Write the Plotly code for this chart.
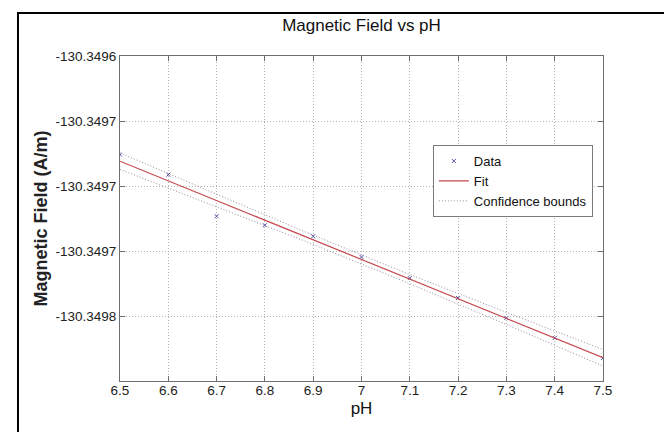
import numpy as np
import plotly.graph_objects as go

# pH values and the measured field at each one
ph = [6.5, 6.6, 6.7, 6.8, 6.9, 7.0, 7.1, 7.2, 7.3, 7.4, 7.5]
field = [-130.3496759, -130.3496913, -130.3497233, -130.3497302, -130.3497387, -130.3497546,
         -130.3497708, -130.3497862, -130.3498015, -130.3498169, -130.3498323]

y_tick_vals = [-130.3496, -130.34965, -130.3497, -130.34975, -130.3498]
y_tick_text = ["-130.3496", "-130.3497", "-130.3497", "-130.3497", "-130.3498"]
x_tick_vals = [6.5, 6.6, 6.7, 6.8, 6.9, 7.0, 7.1, 7.2, 7.3, 7.4, 7.5]
x_tick_text = ["6.5", "6.6", "6.7", "6.8", "6.9", "7", "7.1", "7.2", "7.3", "7.4", "7.5"]

T_975 = 2.262  # t value, 95%, 9 dof


def linear_fit(x, y):
    x = np.array(x)
    y = np.array(y)
    xm = x.mean()
    ym = y.mean()
    sxx = ((x - xm) ** 2).sum()
    slope = ((x - xm) * (y - ym)).sum() / sxx
    resid = (y - ym) - slope * (x - xm)
    s = np.sqrt((resid ** 2).sum() / (len(x) - 2))
    return xm, ym, slope, s, sxx, len(x)


xm, ym, slope, s, sxx, n = linear_fit(ph, field)
xs = np.linspace(min(ph), max(ph), 101)
fit = ym + slope * (xs - xm)
half = T_975 * s * np.sqrt(1.0 / n + (xs - xm) ** 2 / sxx)

fnt = "Liberation Sans, Arial, sans-serif"
bound_col = "#988c98"

fig = go.Figure()
fig.add_trace(go.Scatter(x=ph, y=field, mode="markers", name="Data",
                         marker=dict(symbol="x-thin", size=4, color="#5656a8",
                                     line=dict(width=1, color="#5656a8"))))
fig.add_trace(go.Scatter(x=xs, y=fit, mode="lines", name="Fit",
                         line=dict(color="#c4484f", width=1.2)))
fig.add_trace(go.Scatter(x=xs, y=fit + half, mode="lines", name="Confidence bounds",
                         legendgroup="cb", line=dict(color=bound_col, width=1, dash="1px,2px")))
fig.add_trace(go.Scatter(x=xs, y=fit - half, mode="lines", name="Confidence bounds",
                         legendgroup="cb", showlegend=False,
                         line=dict(color=bound_col, width=1, dash="1px,2px")))

axis_common = dict(showline=True, linecolor="#6e6e6e", linewidth=1, mirror="allticks",
                   ticks="inside", ticklen=5, tickcolor="#6e6e6e",
                   showgrid=True, gridcolor="#b4b4b4", gridwidth=1, griddash="1px,2px",
                   zeroline=False, tickfont=dict(family=fnt, size=13.5, color="#222"))

fig.update_xaxes(range=[6.5, 7.5], tickvals=x_tick_vals, ticktext=x_tick_text,
                 ticklabelstandoff=-3,
                 title=dict(text="pH", font=dict(family=fnt, size=17, color="#111"), standoff=4),
                 **axis_common)
fig.update_yaxes(range=[-130.34985, -130.3496], tickvals=y_tick_vals, ticktext=y_tick_text,
                 title=dict(text="<b>Magnetic Field (A/m)</b>",
                            font=dict(family=fnt, size=18, color="#222"), standoff=3),
                 **axis_common)

# outer black frame of the figure window
fig.add_shape(type="rect", xref="paper", yref="paper",
              x0=-0.2112, x1=1.1532, y0=-0.175, y1=1.1323,
              line=dict(color="black", width=2), fillcolor="rgba(0,0,0,0)")

fig.update_layout(
    width=672, height=432,
    margin=dict(l=112, r=77, t=48, b=59),
    paper_bgcolor="white", plot_bgcolor="white",
    title=dict(text="Magnetic Field vs pH", x=0.5, xref="paper", y=1 - 17 / 432,
               yref="container", yanchor="middle",
               font=dict(family=fnt, size=17, color="#111")),
    legend=dict(x=0.979, xanchor="right", y=0.726, yanchor="top",
                bgcolor="white", bordercolor="#7a7a7a", borderwidth=1,
                font=dict(family=fnt, size=13, color="#111"),
                itemwidth=30, tracegroupgap=0),
    showlegend=True,
)

fig.write_html("out.html")
